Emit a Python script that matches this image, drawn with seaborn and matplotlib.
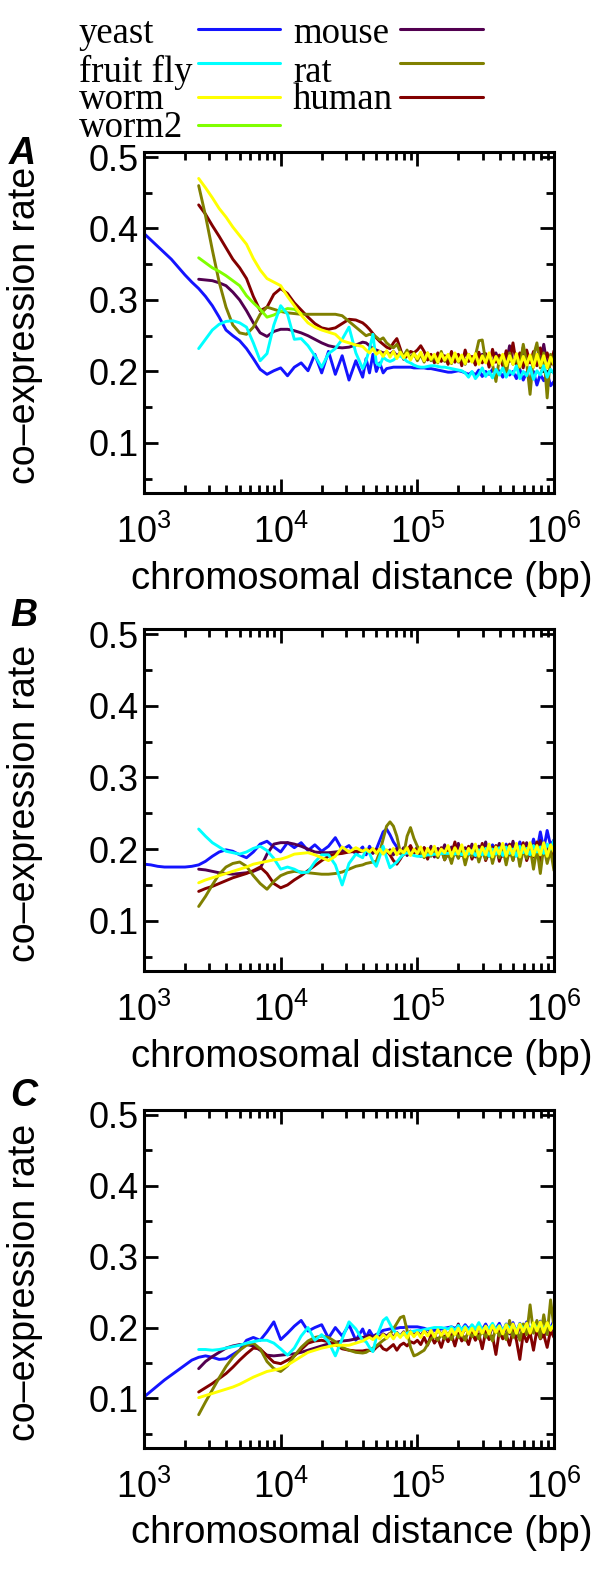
import numpy as np
import matplotlib
matplotlib.use("Agg")
import matplotlib.pyplot as plt
from matplotlib.lines import Line2D
from matplotlib.ticker import MultipleLocator
import seaborn as sns

# ---------------- data ----------------
# sampling positions, log10 of chromosomal distance (bp)
LOGX = [3.00, 3.05, 3.10, 3.15, 3.20, 3.25, 3.30, 3.35,
        3.40, 3.45, 3.50, 3.55, 3.60, 3.65, 3.70, 3.75, 3.80, 3.85,
        3.90, 3.95, 4.00, 4.05, 4.10, 4.15, 4.20, 4.25, 4.30, 4.35,
        4.40, 4.45, 4.50, 4.55, 4.60,
        4.625, 4.65, 4.675, 4.70, 4.725, 4.75, 4.775, 4.80,
        4.825, 4.85, 4.875, 4.90, 4.925, 4.95, 4.975, 5.00,
        5.025, 5.05, 5.075, 5.10, 5.125, 5.15, 5.175, 5.20,
        5.225, 5.25, 5.275, 5.30, 5.325, 5.35, 5.375, 5.40,
        5.425, 5.45, 5.475, 5.50, 5.525, 5.55, 5.575, 5.60,
        5.625, 5.65, 5.675, 5.70, 5.725, 5.75, 5.775, 5.80,
        5.825, 5.85, 5.875, 5.90, 5.925, 5.95, 5.975, 6.00]

SPECIES = ["yeast", "fruit fly", "worm", "worm2", "mouse", "rat", "human"]
COLORS = ["#1414ff", "#00ffff", "#ffff00", "#80ff00", "#520050", "#808000", "#820000"]
START = [0, 8, 8, 8, 8, 8, 8]   # index into LOGX where each species' series starts

# ---- panel A ----
A_yeast = [0.393, 0.384, 0.375, 0.366, 0.357, 0.346, 0.335, 0.325,
           0.316, 0.305, 0.292, 0.276, 0.258,
           0.250, 0.243, 0.232, 0.218, 0.203,
           0.196, 0.201, 0.205, 0.194, 0.206,
           0.212, 0.201, 0.224, 0.198, 0.228,
           0.196, 0.222, 0.188, 0.215, 0.192,
           0.218, 0.198, 0.224, 0.200, 0.212, 0.198, 0.204, 0.205,
           0.206, 0.206, 0.206, 0.206, 0.206, 0.206, 0.205, 0.205,
           0.205, 0.205, 0.204, 0.204, 0.203, 0.202, 0.201, 0.200,
           0.199, 0.199, 0.200, 0.201, 0.200, 0.198, 0.196, 0.199,
           0.195, 0.202, 0.193, 0.200, 0.196, 0.203, 0.194, 0.201,
           0.192, 0.204, 0.195, 0.200, 0.190, 0.203, 0.188, 0.199,
           0.186, 0.200, 0.181, 0.196, 0.187, 0.198, 0.180, 0.186]
A_fly = [0.232, 0.245, 0.258, 0.266, 0.270,
         0.271, 0.268, 0.262, 0.240, 0.215,
         0.225, 0.265, 0.292, 0.280, 0.245,
         0.246, 0.236, 0.222, 0.206, 0.225,
         0.232, 0.245, 0.262, 0.226, 0.204,
         0.215, 0.232, 0.252, 0.212, 0.208, 0.220, 0.216, 0.214,
         0.216, 0.220, 0.222, 0.218, 0.214, 0.212, 0.209, 0.207,
         0.206, 0.206, 0.207, 0.208, 0.208, 0.207, 0.206, 0.206,
         0.205, 0.204, 0.203, 0.202, 0.201, 0.198, 0.192, 0.200,
         0.190, 0.196, 0.205, 0.193, 0.200, 0.191, 0.203, 0.195,
         0.205, 0.192, 0.201, 0.196, 0.208, 0.190, 0.200, 0.194,
         0.206, 0.189, 0.201, 0.195, 0.208, 0.192, 0.203, 0.197]
A_worm = [0.470, 0.457, 0.443, 0.428, 0.416,
          0.402, 0.390, 0.378, 0.358, 0.342,
          0.330, 0.325, 0.320, 0.305, 0.292,
          0.279, 0.268, 0.262, 0.258, 0.255,
          0.252, 0.243, 0.240, 0.237, 0.235,
          0.230, 0.226, 0.232, 0.224, 0.228, 0.221, 0.229, 0.220,
          0.228, 0.218, 0.227, 0.219, 0.226, 0.216, 0.225, 0.218,
          0.227, 0.215, 0.226, 0.217, 0.224, 0.213, 0.225, 0.216,
          0.224, 0.212, 0.226, 0.214, 0.223, 0.211, 0.224, 0.213,
          0.225, 0.210, 0.222, 0.212, 0.226, 0.209, 0.221, 0.211,
          0.224, 0.208, 0.222, 0.210, 0.225, 0.207, 0.221, 0.209,
          0.223, 0.206, 0.224, 0.208, 0.222, 0.205, 0.220, 0.210]
A_worm2 = [0.359, 0.352, 0.345, 0.340, 0.334,
           0.327, 0.320, 0.306, 0.296, 0.287,
           0.276, 0.279, 0.284, 0.288, 0.287,
           0.281]
A_mouse = [0.329, 0.328, 0.327, 0.324, 0.320,
           0.311, 0.300, 0.285, 0.268, 0.254,
           0.249, 0.256, 0.259, 0.259, 0.257,
           0.254, 0.250, 0.245, 0.240, 0.236,
           0.234, 0.233, 0.234, 0.237, 0.241,
           0.240, 0.236, 0.232, 0.230, 0.228, 0.226, 0.227, 0.224,
           0.228, 0.222, 0.226, 0.220, 0.225, 0.219, 0.224, 0.218,
           0.224, 0.216, 0.222, 0.218, 0.223, 0.215, 0.221, 0.217,
           0.222, 0.214, 0.224, 0.215, 0.220, 0.213, 0.222, 0.216,
           0.221, 0.212, 0.224, 0.214, 0.219, 0.210, 0.226, 0.213,
           0.220, 0.211, 0.236, 0.212, 0.222, 0.207, 0.234, 0.210,
           0.219, 0.206, 0.224, 0.211, 0.238, 0.209, 0.221, 0.212]
A_rat = [0.460, 0.418, 0.370, 0.325, 0.290,
         0.265, 0.254, 0.252, 0.262, 0.280,
         0.290, 0.287, 0.284, 0.282, 0.281,
         0.280, 0.280, 0.280, 0.280, 0.280,
         0.280, 0.278, 0.270, 0.262, 0.254,
         0.250, 0.252, 0.251, 0.248, 0.244, 0.247, 0.240, 0.236,
         0.233, 0.238, 0.228, 0.222, 0.230, 0.218, 0.226, 0.215,
         0.224, 0.213, 0.226, 0.215, 0.221, 0.212, 0.228, 0.214,
         0.223, 0.211, 0.225, 0.213, 0.221, 0.210, 0.224, 0.214,
         0.222, 0.243, 0.244, 0.214, 0.222, 0.210, 0.186, 0.218,
         0.220, 0.195, 0.226, 0.210, 0.218, 0.205, 0.238, 0.212,
         0.168, 0.222, 0.240, 0.205, 0.226, 0.163, 0.224, 0.208]
A_human = [0.433, 0.420, 0.404, 0.389, 0.373,
           0.357, 0.345, 0.330, 0.305, 0.285,
           0.290, 0.308, 0.316, 0.309, 0.296,
           0.286, 0.276, 0.267, 0.261, 0.259,
           0.261, 0.267, 0.273, 0.272, 0.268,
           0.264, 0.259, 0.253, 0.247, 0.242, 0.238, 0.234, 0.232,
           0.240, 0.246, 0.232, 0.217, 0.222, 0.228, 0.226, 0.230,
           0.236, 0.228, 0.216, 0.224, 0.212, 0.226, 0.214, 0.222,
           0.210, 0.228, 0.213, 0.224, 0.208, 0.230, 0.214, 0.221,
           0.209, 0.227, 0.212, 0.225, 0.206, 0.231, 0.213, 0.223,
           0.208, 0.229, 0.214, 0.240, 0.210, 0.226, 0.205, 0.230,
           0.212, 0.228, 0.208, 0.233, 0.215, 0.226, 0.210, 0.229]

# ---- panel B ----
B_yeast = [0.179, 0.178, 0.176, 0.175, 0.175, 0.175, 0.175, 0.176,
           0.178, 0.183, 0.190, 0.196, 0.199,
           0.197, 0.192, 0.188, 0.196, 0.207,
           0.211, 0.203, 0.196, 0.209, 0.202,
           0.209, 0.198, 0.206, 0.197, 0.204,
           0.216, 0.199, 0.205, 0.193, 0.203,
           0.192, 0.204, 0.195, 0.200, 0.212, 0.224, 0.228, 0.220,
           0.210, 0.203, 0.198, 0.195, 0.194, 0.195, 0.196, 0.197,
           0.197, 0.197, 0.196, 0.196, 0.197, 0.197, 0.198, 0.198,
           0.198, 0.199, 0.199, 0.200, 0.198, 0.201, 0.197, 0.202,
           0.196, 0.204, 0.197, 0.203, 0.195, 0.206, 0.197, 0.203,
           0.194, 0.207, 0.196, 0.205, 0.193, 0.210, 0.198, 0.206,
           0.195, 0.214, 0.198, 0.224, 0.200, 0.226, 0.205, 0.213]
B_fly = [0.228, 0.218, 0.209, 0.203, 0.197,
         0.195, 0.193, 0.196, 0.201, 0.204,
         0.198, 0.187, 0.172, 0.175, 0.172,
         0.167, 0.168, 0.182, 0.192, 0.192,
         0.178, 0.150, 0.180, 0.193, 0.188,
         0.200, 0.194, 0.183, 0.176, 0.190, 0.204, 0.188, 0.174,
         0.178, 0.182, 0.188, 0.193, 0.195, 0.193, 0.191, 0.190,
         0.190, 0.191, 0.192, 0.192, 0.193, 0.193, 0.194, 0.194,
         0.194, 0.195, 0.193, 0.196, 0.192, 0.197, 0.193, 0.198,
         0.191, 0.199, 0.192, 0.201, 0.190, 0.200, 0.193, 0.202,
         0.191, 0.203, 0.194, 0.200, 0.190, 0.204, 0.195, 0.201,
         0.192, 0.205, 0.196, 0.203, 0.194, 0.207, 0.200, 0.212]
B_worm = [0.153, 0.157, 0.160, 0.163, 0.166,
          0.169, 0.172, 0.175, 0.179, 0.181,
          0.183, 0.185, 0.186, 0.189, 0.193,
          0.194, 0.195, 0.192, 0.188, 0.184,
          0.190, 0.203, 0.196, 0.202, 0.197,
          0.200, 0.196, 0.201, 0.194, 0.200, 0.193, 0.199, 0.194,
          0.201, 0.192, 0.199, 0.195, 0.202, 0.191, 0.200, 0.194,
          0.203, 0.190, 0.201, 0.193, 0.204, 0.191, 0.200, 0.195,
          0.205, 0.190, 0.202, 0.193, 0.206, 0.189, 0.201, 0.194,
          0.207, 0.190, 0.203, 0.192, 0.207, 0.189, 0.203, 0.193,
          0.208, 0.190, 0.204, 0.192, 0.208, 0.189, 0.205, 0.193,
          0.209, 0.191, 0.205, 0.192, 0.209, 0.190, 0.206, 0.196]
B_mouse = [0.172, 0.171, 0.169, 0.167, 0.166,
           0.165, 0.166, 0.167, 0.169, 0.173,
           0.193, 0.207, 0.209, 0.209, 0.207,
           0.204, 0.200, 0.196, 0.195, 0.195,
           0.196, 0.197, 0.197, 0.196, 0.197,
           0.195, 0.199, 0.194, 0.200, 0.193, 0.201, 0.195, 0.199,
           0.192, 0.201, 0.194, 0.202, 0.191, 0.200, 0.195, 0.203,
           0.190, 0.202, 0.193, 0.204, 0.189, 0.201, 0.194, 0.206,
           0.190, 0.203, 0.192, 0.208, 0.191, 0.202, 0.194, 0.207,
           0.189, 0.204, 0.193, 0.210, 0.190, 0.203, 0.195, 0.208,
           0.190, 0.205, 0.192, 0.211, 0.191, 0.204, 0.196, 0.209,
           0.191, 0.206, 0.194, 0.212, 0.192, 0.205, 0.197, 0.208]
B_rat = [0.120, 0.134, 0.150, 0.165, 0.175,
         0.180, 0.182, 0.176, 0.163, 0.152,
         0.144, 0.155, 0.163, 0.167, 0.169,
         0.168, 0.167, 0.166, 0.165, 0.165,
         0.166, 0.168, 0.172, 0.176, 0.178,
         0.180, 0.181, 0.182, 0.183, 0.196, 0.214, 0.232, 0.238,
         0.232, 0.218, 0.196, 0.192, 0.218, 0.230, 0.215, 0.204,
         0.195, 0.188, 0.194, 0.190, 0.196, 0.188, 0.199, 0.185,
         0.195, 0.180, 0.198, 0.187, 0.200, 0.178, 0.196, 0.190,
         0.201, 0.182, 0.197, 0.186, 0.204, 0.180, 0.198, 0.188,
         0.202, 0.178, 0.200, 0.184, 0.205, 0.176, 0.199, 0.187,
         0.203, 0.172, 0.201, 0.166, 0.204, 0.180, 0.198, 0.170]
B_human = [0.141, 0.145, 0.148, 0.152, 0.156,
           0.160, 0.163, 0.166, 0.170, 0.175,
           0.166, 0.152, 0.146, 0.150, 0.157,
           0.163, 0.170, 0.177, 0.184, 0.190,
           0.193, 0.194, 0.196, 0.197, 0.198,
           0.198, 0.199, 0.198, 0.197, 0.199, 0.196, 0.198, 0.192,
           0.184, 0.179, 0.186, 0.194, 0.198, 0.205, 0.194, 0.200,
           0.190, 0.202, 0.186, 0.199, 0.194, 0.189, 0.202, 0.185,
           0.198, 0.193, 0.210, 0.188, 0.197, 0.192, 0.204, 0.186,
           0.199, 0.191, 0.208, 0.184, 0.196, 0.190, 0.205, 0.183,
           0.198, 0.190, 0.207, 0.185, 0.200, 0.192, 0.209, 0.184,
           0.197, 0.189, 0.210, 0.183, 0.199, 0.191, 0.206, 0.188]

# ---- panel C ----
C_yeast = [0.102, 0.110, 0.118, 0.126, 0.133, 0.140, 0.147, 0.154,
           0.158, 0.160, 0.158, 0.155, 0.156,
           0.162, 0.168, 0.182, 0.186, 0.182,
           0.194, 0.208, 0.183, 0.192, 0.202,
           0.210, 0.195, 0.200, 0.204, 0.185,
           0.200, 0.188, 0.204, 0.182, 0.198,
           0.186, 0.196, 0.188, 0.190, 0.193, 0.196, 0.197, 0.198,
           0.199, 0.199, 0.200, 0.200, 0.201, 0.201, 0.201, 0.201,
           0.200, 0.199, 0.197, 0.196, 0.196, 0.197, 0.198, 0.199,
           0.200, 0.201, 0.199, 0.202, 0.197, 0.204, 0.198, 0.203,
           0.196, 0.204, 0.197, 0.205, 0.195, 0.203, 0.198, 0.206,
           0.194, 0.205, 0.196, 0.207, 0.193, 0.206, 0.197, 0.208,
           0.195, 0.206, 0.198, 0.209, 0.194, 0.207, 0.199, 0.210]
C_fly = [0.169, 0.169, 0.168, 0.169, 0.171,
         0.173, 0.175, 0.178, 0.180, 0.182,
         0.182, 0.178, 0.170, 0.161, 0.171,
         0.188, 0.200, 0.182, 0.190, 0.180,
         0.160, 0.184, 0.208, 0.198, 0.182,
         0.180, 0.172, 0.166, 0.186, 0.198, 0.210, 0.214, 0.205,
         0.196, 0.192, 0.189, 0.190, 0.192, 0.194, 0.195, 0.196,
         0.196, 0.197, 0.198, 0.199, 0.200, 0.200, 0.200, 0.199,
         0.198, 0.201, 0.196, 0.203, 0.197, 0.202, 0.195, 0.204,
         0.198, 0.207, 0.196, 0.201, 0.199, 0.206, 0.197, 0.203,
         0.195, 0.204, 0.199, 0.202, 0.196, 0.205, 0.198, 0.203,
         0.196, 0.206, 0.199, 0.204, 0.197, 0.205, 0.200, 0.203]
C_worm = [0.101, 0.104, 0.107, 0.110, 0.113,
          0.116, 0.120, 0.125, 0.130, 0.134,
          0.138, 0.140, 0.142, 0.147, 0.153,
          0.159, 0.165, 0.168, 0.171, 0.173,
          0.175, 0.175, 0.175, 0.178, 0.181,
          0.184, 0.186, 0.183, 0.188, 0.184, 0.190, 0.185, 0.191,
          0.184, 0.192, 0.186, 0.193, 0.185, 0.194, 0.187, 0.193,
          0.186, 0.195, 0.188, 0.196, 0.187, 0.197, 0.189, 0.196,
          0.188, 0.198, 0.190, 0.199, 0.189, 0.200, 0.191, 0.199,
          0.190, 0.201, 0.192, 0.202, 0.191, 0.203, 0.193, 0.202,
          0.191, 0.204, 0.193, 0.205, 0.192, 0.205, 0.194, 0.206,
          0.192, 0.207, 0.195, 0.208, 0.193, 0.207, 0.196, 0.205]
C_mouse = [0.142, 0.152, 0.159, 0.165, 0.171,
           0.174, 0.176, 0.176, 0.174, 0.168,
           0.161, 0.160, 0.161, 0.162, 0.163,
           0.165, 0.168, 0.171, 0.174, 0.177,
           0.179, 0.181, 0.182, 0.184, 0.186,
           0.187, 0.189, 0.186, 0.190, 0.187, 0.191, 0.188, 0.192,
           0.186, 0.193, 0.188, 0.194, 0.187, 0.195, 0.189, 0.194,
           0.188, 0.196, 0.190, 0.195, 0.187, 0.197, 0.190, 0.196,
           0.188, 0.198, 0.191, 0.205, 0.189, 0.199, 0.192, 0.197,
           0.189, 0.200, 0.192, 0.198, 0.188, 0.201, 0.193, 0.199,
           0.187, 0.202, 0.191, 0.200, 0.186, 0.203, 0.192, 0.201,
           0.188, 0.204, 0.193, 0.202, 0.187, 0.205, 0.194, 0.200]
C_rat = [0.077, 0.095, 0.112, 0.129, 0.145,
         0.158, 0.168, 0.175, 0.178, 0.170,
         0.152, 0.142, 0.138, 0.146, 0.160,
         0.172, 0.181, 0.186, 0.188, 0.186,
         0.180, 0.172, 0.168, 0.165, 0.164,
         0.165, 0.168, 0.171, 0.174, 0.178, 0.182, 0.185, 0.190,
         0.198, 0.206, 0.214, 0.216, 0.196, 0.172, 0.160, 0.162,
         0.165, 0.168, 0.176, 0.184, 0.188, 0.182, 0.190, 0.184,
         0.192, 0.183, 0.195, 0.186, 0.191, 0.182, 0.196, 0.187,
         0.193, 0.184, 0.198, 0.186, 0.194, 0.181, 0.200, 0.188,
         0.196, 0.183, 0.210, 0.186, 0.198, 0.182, 0.205, 0.190,
         0.232, 0.192, 0.210, 0.185, 0.218, 0.190, 0.239, 0.200]
C_human = [0.109, 0.115, 0.121, 0.128, 0.135,
           0.144, 0.154, 0.163, 0.171, 0.170,
           0.160, 0.151, 0.149, 0.154, 0.160,
           0.169, 0.178, 0.181, 0.182, 0.180,
           0.176, 0.170, 0.168, 0.167, 0.167,
           0.168, 0.168, 0.167, 0.172, 0.176, 0.170, 0.168, 0.172,
           0.176, 0.168, 0.175, 0.178, 0.174, 0.180, 0.178, 0.182,
           0.176, 0.186, 0.175, 0.189, 0.178, 0.185, 0.172, 0.188,
           0.180, 0.190, 0.174, 0.192, 0.181, 0.187, 0.176, 0.193,
           0.182, 0.191, 0.170, 0.194, 0.183, 0.188, 0.162, 0.195,
           0.184, 0.190, 0.175, 0.196, 0.182, 0.155, 0.192, 0.180,
           0.193, 0.168, 0.197, 0.184, 0.190, 0.172, 0.196, 0.186]

PANELS = ["A", "B", "C"]
PANEL_SERIES = [
    [A_yeast, A_fly, A_worm, A_worm2, A_mouse, A_rat, A_human],
    [B_yeast, B_fly, B_worm, None, B_mouse, B_rat, B_human],
    [C_yeast, C_fly, C_worm, None, C_mouse, C_rat, C_human],
]
DRAW_ORDER = [0, 4, 6, 5, 3, 1, 2]   # yeast, mouse, human, rat, worm2, fruit fly, worm

XLABEL = "chromosomal distance (bp)"
YLABEL = "co\u2013expression rate"

# ---------------- layout / style ----------------
W, H = 600, 1570
AX_LEFT, AX_RIGHT = 144, 554
AX_TOP_BOTTOM = [(152, 493), (629, 971), (1110, 1448)]
PANEL_LABEL_POS = [(9, 164), (10, 626), (10, 1106)]
LEG_COL_X = [79, 293]
LEG_LINE_X = [(198, 280), (400, 483)]
LEG_TEXT_Y = [43, 82, 109, 137]
LEG_LINE_Y = [29, 63, 97, 125]

sns.set_style("ticks")
plt.rcParams["font.family"] = ["Liberation Sans", "DejaVu Sans"]
plt.rcParams["mathtext.fontset"] = "custom"
plt.rcParams["mathtext.rm"] = "Liberation Sans"
plt.rcParams["mathtext.it"] = "Liberation Sans:italic"
plt.rcParams["mathtext.bf"] = "Liberation Sans:bold"
for key in ["text.color", "axes.labelcolor", "xtick.color", "ytick.color",
            "xtick.labelcolor", "ytick.labelcolor", "axes.edgecolor"]:
    plt.rcParams[key] = "black"

fig = plt.figure(figsize=(W / 100, H / 100), dpi=100)
fig.patch.set_facecolor("white")

for p, (top, bot) in enumerate(AX_TOP_BOTTOM):
    ax = fig.add_axes([AX_LEFT / W, 1 - bot / H, (AX_RIGHT - AX_LEFT) / W, (bot - top) / H])
    ax.set_facecolor("white")
    ax.set_xscale("log")
    for k in DRAW_ORDER:
        vals = PANEL_SERIES[p][k]
        if vals is None:
            continue
        lx = LOGX[START[k]:START[k] + len(vals)]
        dist = [10 ** v for v in lx]
        sns.lineplot(x=dist, y=vals, ax=ax, color=COLORS[k], linewidth=2.1,
                     estimator=None, sort=False, legend=False)
    ax.set_xlim(1e3, 1e6)
    ax.set_ylim(0.03, 0.507)
    ax.yaxis.set_major_locator(MultipleLocator(0.1))
    ax.yaxis.set_minor_locator(MultipleLocator(0.05))
    ax.tick_params(which="both", direction="in", top=True, right=True, width=2.0, color="black")
    ax.tick_params(which="major", length=10)
    ax.tick_params(which="minor", length=5.5)
    ax.tick_params(axis="x", which="major", labelsize=26, pad=16, labelcolor="black")
    ax.tick_params(axis="y", which="major", labelsize=26, pad=4, labelcolor="black")
    for sp in ax.spines.values():
        sp.set_visible(True)
        sp.set_linewidth(2.2)
        sp.set_color("black")
    ax.set_xlabel(XLABEL, fontsize=27.5, color="black")
    ax.set_ylabel(YLABEL, fontsize=27, color="black")
    ax.xaxis.set_label_coords(0.532, -0.198)
    ax.yaxis.set_label_coords(-0.247, 0.49)
    px, py = PANEL_LABEL_POS[p]
    fig.text(px / W, 1 - py / H, PANELS[p], fontsize=27, fontweight="bold", style="italic",
             va="baseline", ha="left", color="black")

# legend (label text followed by a line sample, two columns)
for k, name in enumerate(SPECIES):
    col = 0 if k < 4 else 1
    row = k if k < 4 else k - 4
    fig.text(LEG_COL_X[col] / W, 1 - LEG_TEXT_Y[row] / H, name,
             family=["Liberation Serif", "DejaVu Serif"], fontsize=26.5,
             va="baseline", ha="left", color="black")
    x0, x1 = LEG_LINE_X[col]
    fig.add_artist(Line2D([x0 / W, x1 / W], [1 - LEG_LINE_Y[row] / H] * 2,
                          transform=fig.transFigure, color=COLORS[k], linewidth=2.2))

fig.savefig("out.png", dpi=100, facecolor="white")
